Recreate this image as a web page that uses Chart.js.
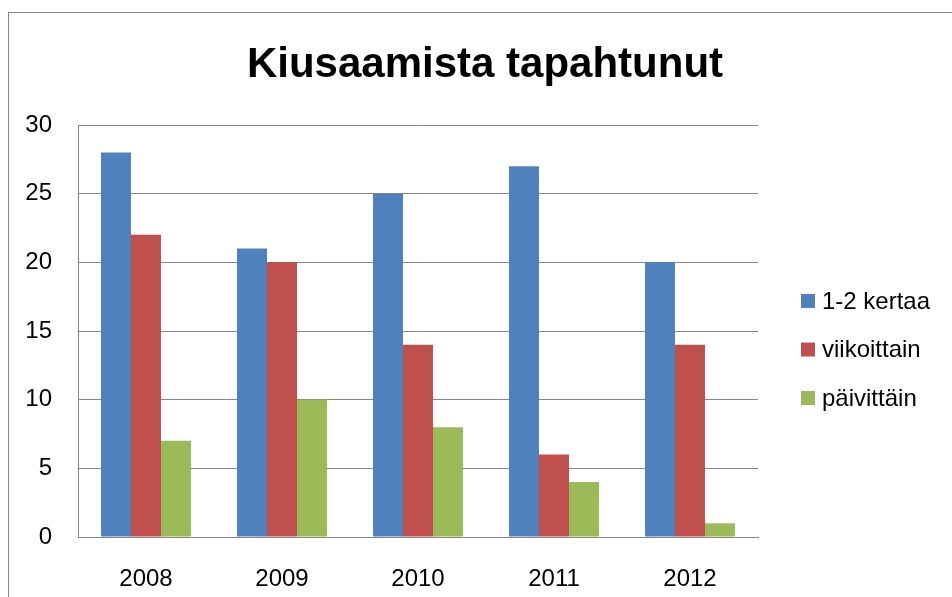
<!DOCTYPE html>
<html lang="fi">
<head>
<meta charset="utf-8">
<title>Kiusaamista tapahtunut</title>
<script src="https://cdn.jsdelivr.net/npm/chart.js@4"></script>
<style>
  html, body { margin: 0; padding: 0; overflow: hidden; background: #fff; }
  .wrap { position: relative; width: 952px; height: 597px; }
  .frame { position: absolute; left: 8px; top: 12px; width: 960px; height: 600px;
           border: 1px solid #878787; box-sizing: border-box; pointer-events: none; }
  .title { position: absolute; left: 0; top: 42px; width: 970px; text-align: center;
           font: bold 42px "Liberation Sans", Arial, sans-serif; line-height: 42px; color: #000; }
  canvas { position: absolute; left: 0; top: 0; }
</style>
</head>
<body>
<div class="wrap">
  <canvas id="chart" width="952" height="597"></canvas>
  <div class="frame"></div>
  <div class="title">Kiusaamista tapahtunut</div>
</div>
<script>
// vuodet ja sarjat
const years = ['2008', '2009', '2010', '2011', '2012'];
const kerran = [28, 21, 25, 27, 20];      // 1-2 kertaa
const viikoittain = [22, 20, 14, 6, 14];
const paivittain = [7, 10, 8, 4, 1];
const seriesNames = ['1-2 kertaa', 'viikoittain', 'päivittäin'];
const colors = ['#4F81BD', '#C0504D', '#9BBB59'];

const FONT = '"Liberation Sans", Arial, sans-serif';
const GRID = '#878787';

// oma selite oikealle
const sideLegend = {
  id: 'sideLegend',
  afterDraw(chart) {
    const { ctx, chartArea } = chart;
    ctx.save();
    ctx.font = '24px ' + FONT;
    ctx.textBaseline = 'middle';
    chart.data.datasets.forEach((ds, i) => {
      const x = chartArea.right + 43;
      const y = chartArea.top + 176 + i * 48.5;
      ctx.fillStyle = ds.backgroundColor;
      ctx.fillRect(x, y - 7, 14, 14);
      ctx.fillStyle = '#000';
      ctx.fillText(ds.label, x + 21, y + 1);
    });
    ctx.restore();
  }
};

new Chart(document.getElementById('chart'), {
  type: 'bar',
  data: {
    labels: years,
    datasets: [kerran, viikoittain, paivittain].map((d, i) => ({
      label: seriesNames[i],
      data: d,
      backgroundColor: colors[i],
      borderWidth: 0,
      categoryPercentage: 0.662,
      barPercentage: 1
    }))
  },
  options: {
    responsive: false,
    animation: false,
    layout: { padding: { left: 0, right: 194, top: 125, bottom: 0 } },
    plugins: {
      legend: { display: false },
      tooltip: { enabled: false }
    },
    scales: {
      x: {
        grid: { display: false },
        border: { display: true, color: GRID, width: 1 },
        ticks: { color: '#000', font: { family: FONT, size: 24 }, padding: 20 },
        afterFit: s => { s.height = 60; }
      },
      y: {
        min: 0, max: 30,
        grid: { color: GRID, lineWidth: 1, drawTicks: false },
        border: { display: true, color: GRID, width: 1 },
        ticks: { stepSize: 5, color: '#000', font: { family: FONT, size: 24 }, padding: 26 },
        afterFit: s => { s.width = 78; }
      }
    }
  },
  plugins: [sideLegend]
});
</script>
</body>
</html>
